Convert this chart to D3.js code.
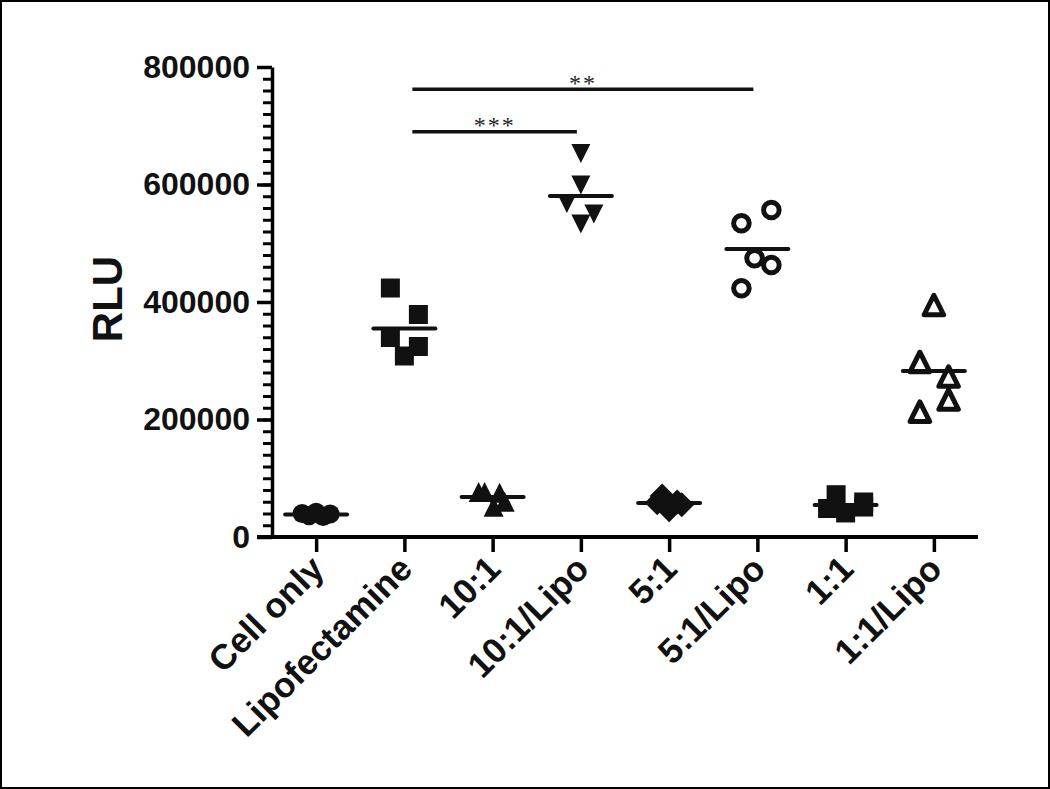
<!DOCTYPE html>
<html><head><meta charset="utf-8">
<script src="https://cdn.jsdelivr.net/npm/d3@7"></script>
<style>body{margin:0;background:#fff}</style>
</head><body>
<svg id="chart" width="1050" height="789"></svg>
<script>
// ---------- data ----------
const categories = ["Cell only","Lipofectamine","10:1","10:1/Lipo","5:1","5:1/Lipo","1:1","1:1/Lipo"];
const cellOnly      = [40000, 36000, 42000, 35000, 39000];
const lipofectamine = [423800, 378700, 339600, 308100, 324300];
const ratio10       = [76700, 76600, 75400, 51600, 60100];
const ratio10Lipo   = [652800, 599100, 567700, 549800, 532800];
const ratio5        = [58400, 69800, 46500, 59600, 55000];
const ratio5Lipo    = [534000, 556600, 474400, 463000, 423300];
const ratio1        = [72000, 59600, 48500, 40900, 51000];
const ratio1Lipo    = [394900, 297900, 273200, 234000, 213300];
// horizontal scatter slot of each point (column spread, -1..1)
const cellOnlySlot      = [-1, -0.5, 0, 0.5, 1];
const lipofectamineSlot = [-1, 1, -1, 0, 1];
const ratio10Slot       = [-1, -0.57, 0.5, 0.07, 0.86];
const ratio10LipoSlot   = [0, 0, -1, 0.93, 0];
const ratio5Slot        = [-0.85, -0.5, 0, 0.57, 0.9];
const ratio5LipoSlot    = [-1.14, 1, -0.2, 1, -1.14];
const ratio1Slot        = [-0.68, 1.29, -1.29, 0, 1.29];
const ratio1LipoSlot    = [0, -1, 1.05, 1.05, -1];
const yTicks = [0, 200000, 400000, 600000, 800000];
const sigFrom = ["Lipofectamine", "Lipofectamine"];
const sigTo = ["10:1/Lipo", "5:1/Lipo"];
const sigLabels = ["***", "**"];
const sigHeights = [690000, 762000];

const seriesValues = [cellOnly, lipofectamine, ratio10, ratio10Lipo, ratio5, ratio5Lipo, ratio1, ratio1Lipo];
const seriesSlots = [cellOnlySlot, lipofectamineSlot, ratio10Slot, ratio10LipoSlot, ratio5Slot, ratio5LipoSlot, ratio1Slot, ratio1LipoSlot];

// ---------- symbols ----------
const triUp = {draw(c, s){const h=Math.sqrt(s)/2; c.moveTo(0,-h); c.lineTo(h,h); c.lineTo(-h,h); c.closePath();}};
const triDown = {draw(c, s){const h=Math.sqrt(s)/2; c.moveTo(0,h); c.lineTo(h,-h); c.lineTo(-h,-h); c.closePath();}};
const diamond = {draw(c, s){const h=Math.sqrt(s)/2; c.moveTo(0,-h); c.lineTo(h,0); c.lineTo(0,h); c.lineTo(-h,0); c.closePath();}};
const markerStyles = [
  {type: d3.symbolCircle, size: Math.PI*9.5*9.5, filled: true},
  {type: d3.symbolSquare, size: 19*19, filled: true},
  {type: triUp, size: 20*20, filled: true},
  {type: triDown, size: 19*19, filled: true},
  {type: diamond, size: 25*25, filled: true},
  {type: d3.symbolCircle, size: Math.PI*7.8*7.8, filled: false, sw: 5},
  {type: d3.symbolSquare, size: 19*19, filled: true},
  {type: triUp, size: 19.5*19.5, filled: false, sw: 5}
];

// ---------- layout ----------
const W = 1050, H = 789;
const svg = d3.select("#chart");
svg.append("rect").attr("width", W).attr("height", H).attr("fill", "#fff");
svg.append("rect").attr("x", 1).attr("y", 1).attr("width", W-2).attr("height", H-2)
  .attr("fill", "none").attr("stroke", "#000").attr("stroke-width", 2);

const plotL = 272, plotR = 978, plotT = 67, plotB = 537;
const y = d3.scaleLinear().domain([0, 800000]).range([plotB, plotT]);
const x = d3.scalePoint().domain(categories).range([plotL, plotR]).padding(0.5);
const jit = d3.scaleLinear().domain([-1, 1]).range([-14, 14]);
const FONT = "Arial, 'Liberation Sans', sans-serif";

// y axis minor ticks
const minor = svg.append("g").attr("transform", `translate(${plotL},0)`)
  .call(d3.axisLeft(y).tickValues(d3.range(0, 800001, 20000)).tickSize(9).tickSizeOuter(0).tickFormat(""));
minor.select(".domain").remove();
minor.selectAll("line").attr("stroke", "#000").attr("stroke-width", 3);

// y axis major
const yAx = svg.append("g").attr("transform", `translate(${plotL},0)`)
  .call(d3.axisLeft(y).tickValues(yTicks).tickSize(15).tickSizeOuter(0).tickPadding(7).tickFormat(d3.format("d")));
yAx.select(".domain").attr("stroke", "#000").attr("stroke-width", 3.5);
yAx.selectAll(".tick line").attr("stroke", "#000").attr("stroke-width", 3.5);
yAx.selectAll(".tick text").attr("font-family", FONT).attr("font-weight", "bold")
  .attr("font-size", 32).attr("fill", "#111");

// x axis
const xAx = svg.append("g").attr("transform", `translate(0,${plotB})`)
  .call(d3.axisBottom(x).tickSize(15).tickSizeOuter(0).tickFormat(""));
xAx.select(".domain").remove();
xAx.selectAll(".tick line").attr("stroke", "#000").attr("stroke-width", 3.5);
svg.append("line").attr("x1", plotL - 15).attr("x2", plotR).attr("y1", plotB).attr("y2", plotB)
  .attr("stroke", "#000").attr("stroke-width", 4);

svg.append("g").selectAll("text").data(categories).join("text")
  .attr("transform", d => `translate(${x(d) + 10},${plotB + 34}) rotate(-45)`)
  .attr("text-anchor", "end")
  .attr("font-family", FONT).attr("font-weight", "bold").attr("font-size", 35).attr("fill", "#111")
  .text(d => d);

// y title
svg.append("text").attr("transform", `translate(122,${(plotT+plotB)/2 - 3}) rotate(-90)`)
  .attr("text-anchor", "middle").attr("font-family", FONT).attr("font-weight", "bold")
  .attr("font-size", 42).attr("fill", "#111").text("RLU");

// points
categories.forEach((cat, i) => {
  const st = markerStyles[i];
  const g = svg.append("g");
  g.selectAll("path").data(seriesValues[i]).join("path")
    .attr("d", d3.symbol().type(st.type).size(st.size))
    .attr("transform", (v, j) => `translate(${x(cat) + jit(seriesSlots[i][j])},${y(v)})`)
    .attr("fill", st.filled ? "#111" : "none")
    .attr("stroke", st.filled ? "none" : "#111")
    .attr("stroke-width", st.sw || 0)
    .attr("stroke-linejoin", "round");
  const m = d3.mean(seriesValues[i]);
  g.append("line").attr("x1", x(cat) - 31).attr("x2", x(cat) + 31)
    .attr("y1", y(m)).attr("y2", y(m)).attr("stroke", "#111").attr("stroke-width", 4)
    .attr("stroke-linecap", "round");
});

// significance bars
sigLabels.forEach((lab, i) => {
  const x1 = x(sigFrom[i]) + 8, x2 = x(sigTo[i]) - 4, yy = y(sigHeights[i]);
  svg.append("line").attr("x1", x1).attr("x2", x2).attr("y1", yy).attr("y2", yy)
    .attr("stroke", "#111").attr("stroke-width", 3.5);
  svg.append("text").attr("x", (x1 + x2) / 2).attr("y", yy + 1.5)
    .attr("text-anchor", "middle").attr("font-family", "'Liberation Serif', 'Times New Roman', serif")
    .attr("font-size", 24).attr("letter-spacing", 2).attr("fill", "#222").text(lab);
});
</script>
</body></html>
